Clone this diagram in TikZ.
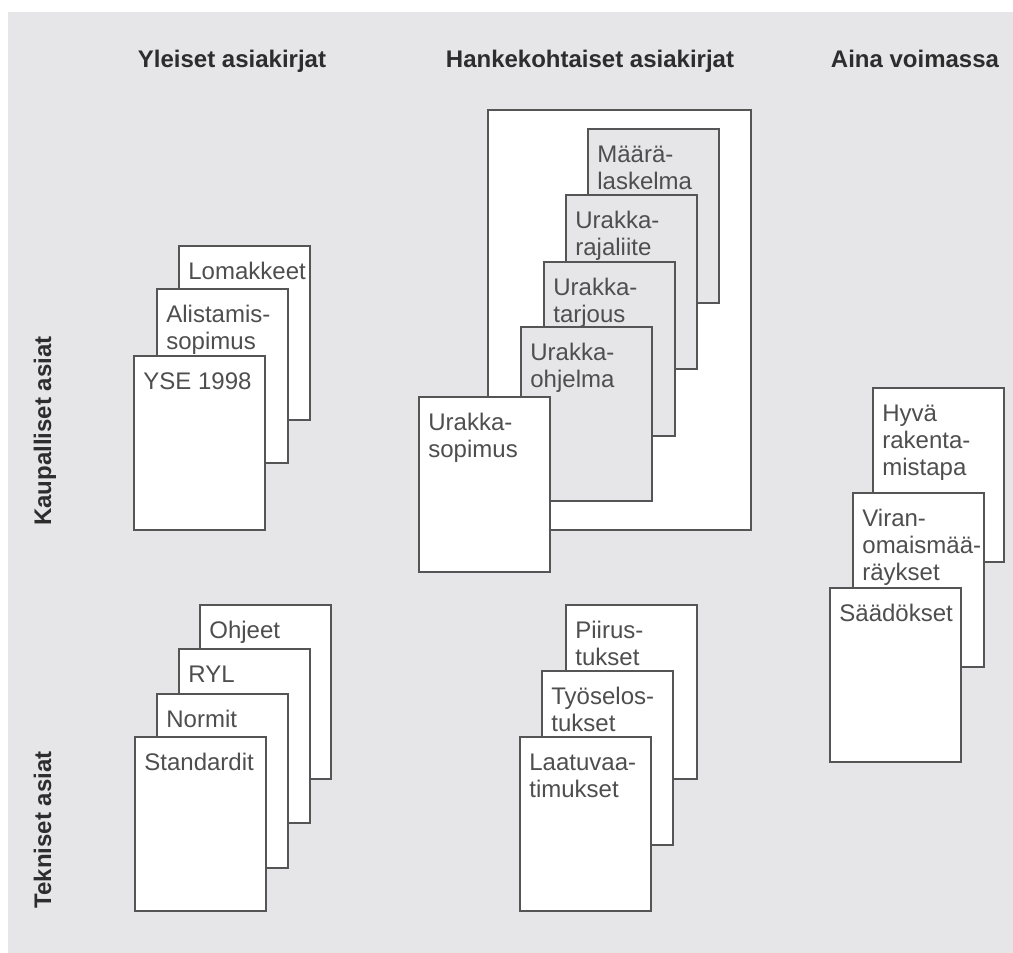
\documentclass[tikz,border=0pt]{standalone}
\usepackage{fontspec}
\setmainfont{Liberation Sans}
\usepackage{tikz}
\usetikzlibrary{positioning}
\definecolor{bggrey}{RGB}{230,230,232}
\definecolor{edgegrey}{RGB}{85,85,85}
\definecolor{textgrey}{RGB}{78,78,78}
\definecolor{headgrey}{RGB}{45,45,45}

\begin{document}
\begin{tikzpicture}[x=0.5pt,y=-0.5pt,
  doc/.style={draw=edgegrey,line width=1pt,fill=white,minimum width=65.5pt,minimum height=87pt,anchor=north west,inner sep=0pt,outer sep=0pt},
  greydoc/.style={doc,fill=bggrey},
  doctext/.style={anchor=north west,inner sep=0pt,align=left,text=textgrey,font=\fontsize{12}{13.5}\selectfont},
  head/.style={anchor=base,inner sep=0pt,text=headgrey,font=\fontsize{12}{14}\selectfont\bfseries},
  side/.style={head,rotate=90}]

\useasboundingbox (0,0) rectangle (1013,953);
\fill[bggrey] (8,12) rectangle (1013,953);

% otsikot
\node[head] (yleiset) at (232,68) {Yleiset asiakirjat};
\node[head] (hanke) at (590,68) {Hankekohtaiset asiakirjat};
\node[head] (aina) at (915,68) {Aina voimassa};
\node[side] (kaupalliset) at (51,431) {Kaupalliset asiat};
\node[side] (tekniset) at (51,830) {Tekniset asiat};

% yleiset, kaupalliset
\foreach \n/\x/\y/\lbl in {lomakkeet/179/246/Lomakkeet, alistamis/157/289/{Alistamis-\\sopimus}, yse/134/356/YSE 1998} {
\node[doc] (\n) at (\x,\y) {};
\node[doctext] (\n-txt) at ([shift={(9,9)}]\n.north west) {\rule{0pt}{12pt}\lbl}; }

% yleiset, tekniset
\foreach \n/\x/\y/\lbl in {ohjeet/200/605/Ohjeet, ryl/179/649/RYL, normit/157/694/Normit, standardit/135/737/Standardit} {
\node[doc] (\n) at (\x,\y) {};
\node[doctext] (\n-txt) at ([shift={(9,9)}]\n.north west) {\rule{0pt}{12pt}\lbl}; }

% hankekohtaiset, kaupalliset
\node[doc,minimum width=131.5pt,minimum height=210pt] (kehys) at (488,110) {};
\foreach \n/\x/\y/\lbl in {maara/588/129/{Määrä-\\laskelma}, rajaliite/566/195/{Urakka-\\rajaliite}, tarjous/544/262/{Urakka-\\tarjous}, ohjelma/521/327/{Urakka-\\ohjelma}} {
\node[greydoc] (\n) at (\x,\y) {};
\node[doctext] (\n-txt) at ([shift={(9,9)}]\n.north west) {\rule{0pt}{12pt}\lbl}; }
\node[doc,minimum height=87.5pt] (sopimus) at (419,397) {};
\node[doctext] (sopimus-txt) at ([shift={(9,9)}]sopimus.north west) {\rule{0pt}{12pt}Urakka-\\sopimus};

% hankekohtaiset, tekniset
\foreach \n/\x/\y/\lbl in {piirus/566/605/{Piirus-\\tukset}, tyoselos/542/671/{Työselos-\\tukset}, laatu/520/737/{Laatuvaa-\\timukset}} {
\node[doc] (\n) at (\x,\y) {};
\node[doctext] (\n-txt) at ([shift={(9,9)}]\n.north west) {\rule{0pt}{12pt}\lbl}; }

% aina voimassa
\foreach \n/\x/\y/\lbl in {hyva/873/388/{Hyvä\\rakenta-\\mistapa}, viran/853/493/{Viran-\\omaismää-\\räykset}, saadokset/830/588/Säädökset} {
\node[doc] (\n) at (\x,\y) {};
\node[doctext] (\n-txt) at ([shift={(9,9)}]\n.north west) {\rule{0pt}{12pt}\lbl}; }
\end{tikzpicture}
\end{document}
